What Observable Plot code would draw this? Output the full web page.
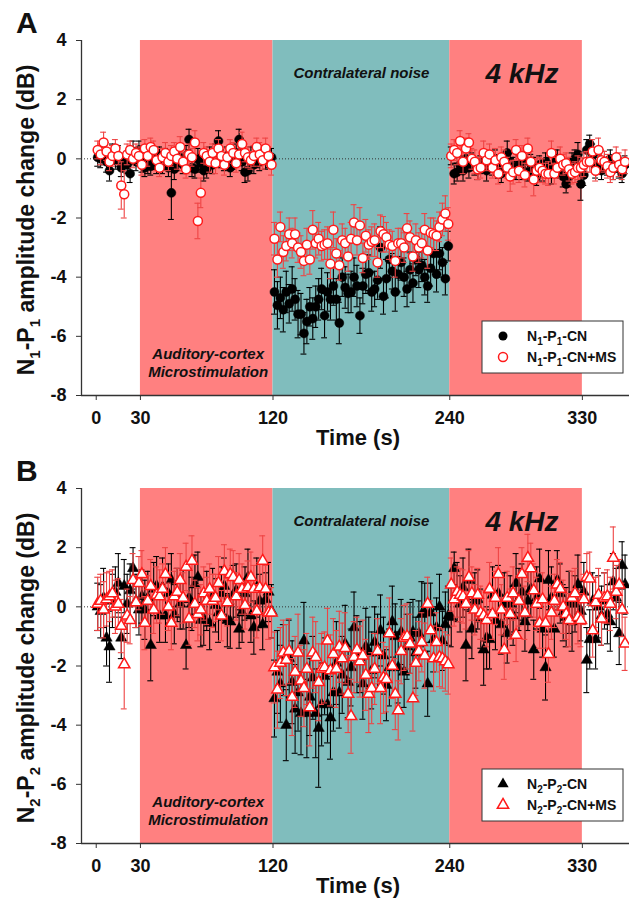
<!DOCTYPE html>
<html><head><meta charset="utf-8">
<script src="https://cdn.jsdelivr.net/npm/d3@7"></script>
<script src="https://cdn.jsdelivr.net/npm/@observablehq/plot@0.6"></script>
<style>
body{margin:0;background:#fff;}
#chart svg{display:block;}
</style>
</head><body><div id="chart"></div>
<script>
// ---------------- DATA ----------------
// sampling times (s): one averaged response every 2 s, 1 s .. 359 s
const sampleTimes = d3.range(1, 360, 2);
const xTicks = [0, 30, 120, 240, 330];
const yTicks = [-8, -6, -4, -2, 0, 2, 4];
const phaseStart = [30, 120, 240];
const phaseEnd = [120, 240, 330];
const phaseName = ["MS", "noise", "MS"];

// Panel A: N1-P1 amplitude change (dB); rows of 15 samples (pre | MS x3 | CN x4 | post x4)
const n1p1_CN = [
 0.05,0.0,0.1,-0.1,-0.4,0.2,-0.05,0.1,-0.3,-0.15,-0.2,-0.5,0.25,-0.1,0.3,
 -0.1,-0.3,-0.2,-0.25,0.0,-0.1,0.1,-0.2,0.0,-0.3,-1.15,-0.35,-0.1,0.05,-0.2,
 0.1,0.65,-0.3,-0.35,0.0,-0.15,-0.4,-0.35,0.1,-0.2,0.2,0.6,0.0,-0.1,0.1,
 -0.3,0.0,0.2,0.65,-0.1,-0.45,-0.4,0.1,-0.2,0.0,-0.1,0.15,-0.05,0.0,0.05,
 -4.5,-4.95,-4.7,-5.1,-4.5,-4.9,-4.4,-4.75,-5.25,-5.25,-5.9,-5.5,-5.0,-5.4,-5.0,
 -4.75,-4.4,-5.3,-4.5,-4.75,-4.3,-4.75,-5.55,-4.0,-4.35,-4.55,-4.5,-4.0,-4.3,-5.3,
 -4.3,-3.9,-3.85,-4.5,-4.4,-4.1,-3.0,-4.65,-4.05,-3.4,-3.8,-4.5,-3.9,-3.5,-4.0,
 -4.4,-3.75,-4.2,-3.4,-3.75,-3.6,-4.0,-4.3,-3.7,-3.2,-3.9,-3.2,-3.5,-4.05,-2.95,
 0.1,-0.5,-0.45,-0.2,-0.4,0.0,-0.3,-0.1,-0.25,-0.35,-0.2,-0.1,-0.4,-0.15,-0.25,
 0.0,-0.3,-0.5,-0.2,0.2,-0.1,-0.3,-0.4,-0.2,-0.35,-0.05,-0.45,-0.15,-0.3,-0.6,
 -0.2,-0.4,-0.1,-0.25,-0.5,-0.15,0.0,-0.35,-0.6,-0.85,-0.6,-0.1,0.0,0.15,-0.85,
 -0.55,0.3,0.5,0.15,-0.3,-0.2,-0.4,-0.1,-0.25,0.0,-0.35,-0.15,-0.3,-0.5,-0.2
];
const n1p1_CN_err = [
 0.3,0.3,0.3,0.35,0.35,0.3,0.3,0.35,0.3,0.3,0.3,0.3,0.35,0.3,0.3,
 0.35,0.3,0.3,0.3,0.35,0.4,0.3,0.3,0.35,0.3,0.9,0.35,0.3,0.3,0.3,
 0.35,0.35,0.3,0.3,0.35,0.3,0.35,0.3,0.3,0.3,0.3,0.35,0.3,0.3,0.3,
 0.3,0.35,0.3,0.35,0.3,0.35,0.35,0.3,0.3,0.3,0.3,0.3,0.3,0.3,0.3,
 0.75,0.8,0.7,0.75,0.7,0.65,0.75,0.7,0.8,0.7,0.7,0.75,0.65,0.7,0.7,
 0.7,0.7,0.75,0.65,0.7,0.65,0.7,0.7,0.65,0.7,0.65,0.7,0.65,0.7,0.6,
 0.6,0.65,0.6,0.65,0.6,0.65,0.7,0.6,0.65,0.6,0.6,0.65,0.6,0.6,0.65,
 0.6,0.6,0.65,0.55,0.6,0.55,0.6,0.55,0.6,0.55,0.6,0.55,0.5,0.55,0.5,
 0.3,0.35,0.3,0.3,0.35,0.3,0.35,0.3,0.3,0.35,0.3,0.3,0.35,0.3,0.3,
 0.3,0.35,0.3,0.3,0.4,0.3,0.35,0.3,0.3,0.35,0.3,0.3,0.3,0.35,0.3,
 0.3,0.35,0.3,0.3,0.35,0.3,0.3,0.3,0.35,0.3,0.35,0.3,0.3,0.4,0.55,
 0.35,0.35,0.3,0.35,0.35,0.3,0.3,0.35,0.3,0.3,0.35,0.3,0.35,0.3,0.3
];
const n1p1_CNMS = [
 0.3,0.15,0.55,0.25,-0.1,0.1,0.35,0.1,-0.9,-1.2,0.15,0.3,0.0,0.2,0.1,
 -0.2,0.35,0.1,0.4,0.3,-0.05,-0.3,0.05,0.2,-0.1,0.1,0.25,0.0,0.4,-0.1,
 -0.35,0.15,0.05,0.55,-2.1,-1.15,0.2,0.1,-0.1,0.2,-0.15,0.35,0.1,-0.2,0.05,
 0.35,0.2,-0.15,0.15,0.5,0.2,0.05,-0.05,0.1,0.4,0.15,-0.05,0.35,0.1,-0.2,
 -2.7,-3.4,-2.3,-3.15,-2.95,-2.55,-2.85,-2.55,-3.0,-3.15,-3.45,-2.9,-3.4,-2.4,-2.85,
 -2.7,-2.95,-2.9,-2.85,-3.55,-2.4,-3.2,-3.6,-2.75,-2.85,-3.3,-2.7,-2.15,-2.75,-2.25,
 -3.35,-2.6,-2.9,-2.8,-2.75,-3.5,-2.45,-2.55,-2.65,-2.9,-2.95,-3.45,-2.85,-2.85,-3.0,
 -2.35,-2.65,-3.3,-2.75,-3.0,-2.85,-2.4,-3.1,-2.5,-2.55,-2.6,-2.3,-2.05,-1.85,-2.2,
 0.1,0.3,0.2,0.6,-0.1,0.35,0.55,0.0,-0.1,-0.35,-0.3,0.2,-0.05,0.15,-0.3,
 -0.05,-0.5,0.05,-0.1,-0.3,-0.6,-0.45,0.3,-0.4,0.1,-0.55,0.35,-0.1,-0.7,-0.4,
 -0.3,-0.4,-0.5,-0.5,0.2,-0.5,-0.3,0.0,-0.2,-0.15,-0.35,-0.5,-0.45,-0.3,-0.3,
 -0.2,-0.1,-0.1,0.25,-0.4,0.3,-0.05,-0.1,-0.25,-0.45,-0.3,0.05,-0.2,-0.35,-0.1
];
const n1p1_CNMS_err = [
 0.3,0.35,0.35,0.3,0.3,0.35,0.3,0.3,0.8,0.8,0.35,0.3,0.3,0.3,0.3,
 0.35,0.3,0.35,0.3,0.3,0.35,0.3,0.3,0.35,0.3,0.35,0.3,0.35,0.35,0.3,
 0.3,0.35,0.3,0.4,0.6,0.5,0.35,0.3,0.35,0.3,0.35,0.3,0.3,0.35,0.3,
 0.3,0.35,0.3,0.35,0.4,0.3,0.35,0.3,0.35,0.3,0.4,0.3,0.35,0.3,0.35,
 0.55,0.6,0.5,0.55,0.5,0.55,0.5,0.55,0.5,0.55,0.5,0.55,0.5,0.65,0.5,
 0.55,0.5,0.5,0.55,0.5,0.6,0.5,0.5,0.55,0.5,0.5,0.55,0.6,0.5,0.6,
 0.5,0.55,0.5,0.5,0.55,0.5,0.55,0.6,0.5,0.5,0.5,0.55,0.5,0.5,0.5,
 0.5,0.55,0.5,0.55,0.5,0.5,0.55,0.6,0.5,0.55,0.5,0.5,0.55,0.6,0.55,
 0.4,0.35,0.4,0.35,0.4,0.35,0.3,0.35,0.4,0.35,0.35,0.4,0.35,0.35,0.35,
 0.4,0.35,0.35,0.4,0.35,0.5,0.4,0.35,0.4,0.35,0.4,0.35,0.35,0.55,0.4,
 0.35,0.4,0.35,0.4,0.4,0.35,0.35,0.4,0.35,0.35,0.4,0.35,0.35,0.4,0.35,
 0.4,0.35,0.35,0.4,0.35,0.4,0.35,0.35,0.4,0.35,0.4,0.35,0.4,0.35,0.4
];

// Panel B: N2-P2 amplitude change (dB)
const n2p2_CN = [
 0.0,-0.15,0.3,-1.05,-1.35,0.2,0.5,0.8,-1.05,0.7,0.1,0.55,1.3,0.2,-0.1,
 0.35,-0.1,0.3,-1.3,0.6,0.7,-0.3,0.65,-0.3,0.45,0.9,-0.25,0.4,0.1,0.25,
 -1.3,0.3,0.1,0.75,1.0,-0.45,-0.4,0.2,-0.55,0.35,0.05,-0.2,0.45,0.7,-0.45,
 -0.5,0.4,0.55,-0.75,-0.2,0.45,1.0,-0.3,-0.7,0.65,0.2,-0.6,0.25,0.5,-0.15,
 -3.1,-2.2,-2.6,-1.8,-4.0,-1.75,-2.55,-3.45,-2.9,-3.6,-1.15,-3.6,-3.05,-2.4,-3.6,
 -4.1,-3.3,-2.35,-3.3,-3.75,-2.9,-1.9,-2.9,-2.3,-1.25,-2.55,-2.05,-0.7,-1.6,-1.7,
 -2.6,-1.35,-1.55,-2.15,-1.2,-1.55,-0.8,-1.65,-2.65,-2.05,-0.5,-1.0,-2.05,-0.85,-2.2,
 -1.35,-1.05,-0.85,-1.55,-0.9,-0.25,-0.2,-2.6,-0.2,-1.1,-0.7,0.0,-1.15,-0.6,-0.3,
 -0.35,1.3,0.5,0.1,0.65,-1.3,0.9,-0.75,0.2,0.25,-0.4,-1.45,-1.05,-1.1,0.4,
 -0.45,0.45,-0.6,0.1,-0.9,0.1,-0.3,0.8,0.25,0.5,-0.5,0.2,0.6,-1.45,0.3,
 0.95,-0.75,-2.05,0.9,0.3,-0.75,0.9,0.45,-0.2,-0.35,0.15,-0.5,0.1,0.75,-0.15,
 0.5,-1.8,-1.1,0.2,-1.1,0.0,-0.3,0.2,-0.25,-0.5,0.85,0.3,-0.9,1.4,0.75
];
const n2p2_CN_err = [
 0.8,0.9,1.0,0.95,1.2,0.9,0.85,1.0,0.7,0.9,1.0,0.9,0.7,0.9,0.85,
 0.9,1.0,0.9,1.2,0.9,1.0,0.9,1.0,0.9,1.0,0.9,1.0,0.9,0.85,1.0,
 0.8,1.0,0.9,1.0,0.85,0.9,0.9,1.0,0.9,0.95,0.9,1.0,0.9,0.95,0.9,
 0.9,1.0,0.9,0.65,1.0,0.9,0.95,0.9,0.9,1.0,0.9,0.85,0.9,1.0,0.9,
 1.3,1.4,1.3,1.2,1.2,1.3,1.4,1.5,1.3,1.4,1.3,1.5,1.3,1.4,1.5,
 2.0,1.4,1.3,1.3,1.4,1.3,1.4,1.2,1.3,1.3,1.2,1.3,1.2,1.3,1.2,
 1.2,1.3,1.2,1.3,1.2,1.3,1.2,1.3,1.2,1.3,1.2,1.1,1.2,1.1,1.2,
 1.1,1.2,1.1,1.2,1.1,1.1,1.0,1.1,1.0,1.1,1.0,1.1,1.0,1.1,1.0,
 1.0,0.55,1.0,0.95,1.0,1.2,1.05,1.0,0.95,1.0,1.0,1.2,1.05,1.0,0.95,
 1.0,0.95,1.0,1.05,1.0,0.95,1.0,1.0,1.05,0.95,1.0,1.0,0.95,1.0,1.05,
 1.0,0.95,1.1,1.0,1.05,0.95,1.0,1.0,0.95,1.0,1.05,1.0,0.95,1.0,1.0,
 1.0,1.1,1.0,0.95,1.0,1.05,1.0,0.95,1.0,1.0,0.95,1.0,1.05,0.8,1.0
];
const n2p2_CNMS = [
 0.1,0.2,-0.1,0.25,0.35,0.45,0.0,0.1,-0.65,-1.95,-0.3,-0.45,0.9,0.15,0.8,
 1.1,-0.55,0.2,0.7,-0.1,0.4,0.35,0.6,1.1,0.0,-0.55,0.35,0.5,0.9,0.3,
 1.35,-0.4,1.55,0.1,-0.25,-0.1,0.45,0.2,0.6,0.2,0.3,0.8,-0.3,1.2,0.15,
 1.1,1.0,0.35,0.9,0.6,0.05,0.65,1.0,0.6,-0.15,0.65,1.55,0.6,-0.2,-0.2,
 -2.05,-2.8,-1.9,-1.55,-1.8,-1.5,-3.05,-2.2,-1.55,-2.5,-2.75,-2.1,-3.4,-1.55,-1.7,
 -2.55,-2.1,-2.05,-1.15,-2.15,-1.6,-2.1,-1.35,-1.75,-1.4,-2.95,-3.7,-1.7,-1.45,-1.85,
 -1.65,-2.3,-2.95,-2.75,-2.1,-1.5,-2.75,-2.4,-2.45,-0.9,-2.0,-2.95,-3.5,-1.5,-1.05,
 -1.0,-1.25,-3.1,-1.9,-1.5,-1.2,-1.65,0.1,-0.8,-1.75,-1.2,-1.7,-1.75,-1.85,-1.95,
 0.75,0.25,0.5,0.4,0.35,0.1,1.0,0.45,-0.1,0.4,-0.2,-0.3,-0.45,0.6,-0.25,
 0.3,1.1,-0.1,-1.45,0.3,-0.25,0.45,-0.95,0.2,1.1,-0.2,1.65,1.3,0.55,0.1,
 -0.55,0.25,-0.55,-1.6,-0.2,0.2,0.75,0.6,0.0,-0.25,-0.45,0.3,0.45,-0.35,-0.45,
 0.25,1.0,0.95,-0.8,0.15,0.4,-0.4,0.3,0.35,0.1,1.65,0.5,0.75,-0.1,-1.25
];
const n2p2_CNMS_err = [
 0.9,0.9,0.95,0.9,0.85,0.8,0.9,0.85,0.9,1.5,0.9,0.8,0.9,0.85,0.9,
 0.8,0.9,0.85,0.9,0.8,0.95,0.9,0.85,0.9,0.8,0.9,0.85,0.8,0.9,0.85,
 0.8,0.9,0.85,0.8,0.9,0.85,0.9,0.8,0.85,0.9,0.8,0.9,0.85,0.9,0.8,
 0.85,0.9,0.8,0.9,0.85,0.8,0.9,0.85,0.8,0.9,0.85,0.85,0.8,0.9,0.85,
 1.2,1.3,1.2,1.1,1.2,1.1,1.3,1.2,1.3,1.2,1.3,1.2,1.3,1.2,1.2,
 1.3,1.2,1.2,1.1,1.2,1.2,1.3,1.2,1.2,1.2,1.3,1.25,1.2,1.1,1.2,
 1.2,1.2,1.3,1.2,1.2,1.1,1.2,1.2,1.1,1.2,1.1,1.2,1.0,1.1,1.1,
 1.1,1.0,1.1,1.1,1.0,1.0,1.1,0.9,1.0,1.1,1.0,1.0,1.0,1.0,1.0,
 0.9,0.9,0.85,0.9,0.9,0.85,0.9,0.9,0.85,0.9,0.9,0.85,0.9,0.9,0.85,
 0.9,0.9,0.85,1.0,0.9,0.85,0.9,0.9,0.85,0.9,0.9,0.8,0.85,0.9,0.9,
 0.85,0.9,0.85,0.95,0.9,0.9,0.85,0.9,0.9,0.85,0.9,0.9,0.85,0.9,0.9,
 0.85,0.8,0.9,0.9,0.85,0.9,0.9,0.85,0.9,0.9,1.05,0.9,0.85,0.9,0.9
];

// ---------------- DRAWING ----------------
const FONT = "Arial, 'Liberation Sans', Helvetica, sans-serif";
const BG_MS = "#ff8080", BG_NOISE = "#80bdbd";
const RED = "#ff1a1a", RED_BAR = "#ee4444";
const CAP = 2; // half cap width in seconds

function rows(vals, errs) {
  return sampleTimes.map((t, i) => ({t, v: vals[i], e: errs[i]})).filter(d => d.v !== undefined);
}
function errorBars(data, color) {
  return [
    Plot.ruleX(data, {x: "t", y1: d => d.v - d.e, y2: d => d.v + d.e, stroke: color, strokeWidth: 1.1}),
    Plot.ruleY(data, {y: d => d.v + d.e, x1: d => d.t - CAP, x2: d => d.t + CAP, stroke: color, strokeWidth: 1.1}),
    Plot.ruleY(data, {y: d => d.v - d.e, x1: d => d.t - CAP, x2: d => d.t + CAP, stroke: color, strokeWidth: 1.1})
  ];
}
function subText(sel, parts, subSize, shift) {
  parts.forEach(([txt, sub], i) => {
    const prevSub = i > 0 && parts[i - 1][1];
    const ts = sel.append("tspan").text(txt);
    if (sub) ts.attr("dy", shift).attr("font-size", subSize);
    else if (prevSub) ts.attr("dy", -shift);
  });
}

function panel(cfg) {
  const black = rows(cfg.cn, cfg.cnErr);
  const red = rows(cfg.ms, cfg.msErr);
  const phases = phaseStart.map((s, i) => ({x1: s, x2: phaseEnd[i], kind: phaseName[i]}));
  const H = cfg.height;
  const plot = Plot.plot({
    width: 629, height: H,
    marginLeft: 81, marginRight: 0, marginTop: 40, marginBottom: H - 395,
    x: {domain: [-10, 362]},
    y: {domain: [-8, 4]},
    style: {fontFamily: FONT, background: "#fff", overflow: "visible", color: "#222"},
    marks: [
      Plot.rect(phases, {x1: "x1", x2: "x2", y1: () => -8, y2: () => 4,
        fill: d => d.kind === "noise" ? BG_NOISE : BG_MS}),
      Plot.ruleY([0], {stroke: "#333", strokeWidth: 1, strokeDasharray: "1,2"}),
      ...errorBars(black, "#000"),
      Plot.dot(black, {x: "t", y: "v", r: cfg.r, symbol: cfg.symbol, fill: "#000", stroke: "#000", strokeWidth: 0.5}),
      ...errorBars(red, RED_BAR),
      Plot.dot(red, {x: "t", y: "v", r: cfg.r, symbol: cfg.symbol, fill: "#fff", stroke: RED, strokeWidth: 1.5}),
      Plot.text(["Contralateral noise"], {x: () => 180, y: () => 2.9, fontSize: 15, fontWeight: "bold", fontStyle: "italic", fill: "#111"}),
      Plot.text(["4 kHz"], {x: () => 289, y: () => 2.85, fontSize: 28, fontWeight: "bold", fontStyle: "italic", fill: "#111"}),
      Plot.text(["Auditory-cortex"], {x: () => 76, y: () => -6.62, fontSize: 15, fontWeight: "bold", fontStyle: "italic", fill: "#111"}),
      Plot.text(["Microstimulation"], {x: () => 76, y: () => -7.22, fontSize: 15, fontWeight: "bold", fontStyle: "italic", fill: "#111"}),
      Plot.ruleX([-10], {stroke: "#333", strokeWidth: 1.3}),
      Plot.ruleY([-8], {stroke: "#333", strokeWidth: 1.3}),
      Plot.axisY(yTicks, {tickSize: 5, tickPadding: 10, tickFormat: d => String(d), fontSize: 18, fontWeight: "bold", label: null, stroke: "#333", fill: "#111"}),
      Plot.axisX(xTicks, {tickSize: 5, tickPadding: 11, tickFormat: d => String(d), fontSize: 18, fontWeight: "bold", label: null, stroke: "#333", fill: "#111"})
    ]
  });
  const svg = d3.select(plot);
  // panel letter
  svg.append("text").attr("x", 16).attr("y", 33).attr("text-anchor", "start").attr("font-family", FONT)
    .attr("font-size", 30).attr("font-weight", "bold").attr("fill", "#111").text(cfg.letter);
  // y label
  const yl = svg.append("text").attr("transform", "translate(34,220) rotate(-90)")
    .attr("text-anchor", "middle").attr("font-family", FONT).attr("font-size", 23)
    .attr("font-weight", "bold").attr("fill", "#111");
  subText(yl, [["N", 0], [cfg.n, 1], ["-P", 0], [cfg.n, 1], [" amplitude change (dB)", 0]], 15, 6);
  // x label
  svg.append("text").attr("x", 358).attr("y", 445).attr("text-anchor", "middle")
    .attr("font-family", FONT).attr("font-size", 22).attr("font-weight", "bold").attr("fill", "#111").text("Time (s)");
  // legend
  const lg = svg.append("g").attr("font-family", FONT).attr("text-anchor", "start");
  lg.append("rect").attr("x", 482).attr("y", 321).attr("width", 141).attr("height", 52)
    .attr("fill", "#fff").attr("stroke", "#333").attr("stroke-width", 1);
  const symType = cfg.symbol === "triangle" ? d3.symbolTriangle : d3.symbolCircle;
  const symPath = d3.symbol().type(symType).size(Math.PI * cfg.r * cfg.r)();
  lg.append("path").attr("d", symPath).attr("transform", "translate(503,336)").attr("fill", "#000");
  lg.append("path").attr("d", symPath).attr("transform", "translate(503,357)")
    .attr("fill", "#fff").attr("stroke", RED).attr("stroke-width", 1.5);
  const t1 = lg.append("text").attr("x", 527).attr("y", 341).attr("text-anchor", "start").attr("font-size", 14).attr("font-weight", "bold").attr("fill", "#111");
  subText(t1, [["N", 0], [cfg.n, 1], ["-P", 0], [cfg.n, 1], ["-CN", 0]], 10, 4);
  const t2 = lg.append("text").attr("x", 527).attr("y", 362).attr("text-anchor", "start").attr("font-size", 14).attr("font-weight", "bold").attr("fill", "#111");
  subText(t2, [["N", 0], [cfg.n, 1], ["-P", 0], [cfg.n, 1], ["-CN+MS", 0]], 10, 4);
  return plot;
}

const chart = document.getElementById("chart");
chart.append(panel({letter: "A", n: "1", height: 448, cn: n1p1_CN, cnErr: n1p1_CN_err,
  ms: n1p1_CNMS, msErr: n1p1_CNMS_err, symbol: "circle", r: 4.5}));
chart.append(panel({letter: "B", n: "2", height: 450, cn: n2p2_CN, cnErr: n2p2_CN_err,
  ms: n2p2_CNMS, msErr: n2p2_CNMS_err, symbol: "triangle", r: 4.2}));
</script>
</body></html>
